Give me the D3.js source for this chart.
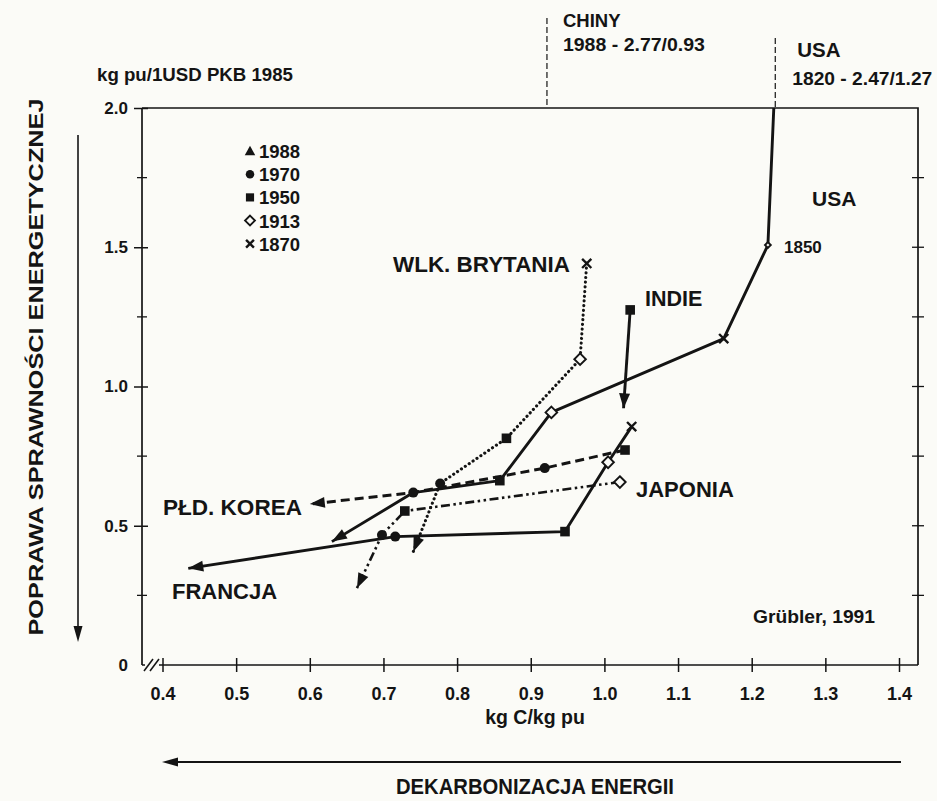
<!DOCTYPE html>
<html>
<head>
<meta charset="utf-8">
<script src="https://cdn.jsdelivr.net/npm/d3@7"></script>
<style>
  html, body { margin: 0; padding: 0; background: #fbfbf7; }
  svg { display: block; }
  text { fill: #141414; font-weight: bold; }
</style>
</head>
<body>
<svg id="chart" width="937" height="801"></svg>
<script>
// ---------------- DATA ----------------
const xTickValues = [0.4, 0.5, 0.6, 0.7, 0.8, 0.9, 1.0, 1.1, 1.2, 1.3, 1.4];
const xTickLabels = ["0.4", "0.5", "0.6", "0.7", "0.8", "0.9", "1.0", "1.1", "1.2", "1.3", "1.4"];
const yTickValues = [0, 0.5, 1.0, 1.5, 2.0];
const yTickLabels = ["0", "0.5", "1.0", "1.5", "2.0"];
const yMinorValues = [0.25, 0.75, 1.25, 1.75];

const legendYears = ["1988", "1970", "1950", "1913", "1870"];
const legendSymbols = ["triangle", "circle", "square", "diamond", "cross"];

// USA (solid) — first point is where the 1820 line leaves the frame at 2.0
const usaX = [1.230, 1.222, 1.162, 0.928, 0.858, 0.7405, 0.630];
const usaY = [2.000, 1.508, 1.172, 0.907, 0.662, 0.619, 0.443];
const usaYears = ["", "1850", "1870", "1913", "1950", "1970", "1988"];

// Wlk. Brytania (dotted)
const ukX = [0.976, 0.967, 0.867, 0.777, 0.7405];
const ukY = [1.442, 1.098, 0.814, 0.652, 0.407];
const ukYears = ["1870", "1913", "1950", "1970", "1988"];

// Indie (solid)
const indX = [1.035, 1.026];
const indY = [1.275, 0.922];
const indYears = ["1950", "1988"];

// Francja (solid)
const frX = [1.037, 1.005, 0.9465, 0.716, 0.435];
const frY = [0.856, 0.728, 0.479, 0.461, 0.347];
const frYears = ["1870", "1913", "1950", "1970", "1988"];

// Japonia (dash-dot)
const jpX = [1.021, 0.729, 0.698, 0.664];
const jpY = [0.657, 0.553, 0.467, 0.276];
const jpYears = ["1913", "1950", "1970", "1988"];

// Płd. Korea (dashed)
const krX = [1.028, 0.919, 0.7405, 0.600];
const krY = [0.772, 0.707, 0.619, 0.578];
const krYears = ["1950", "1970", "", "1988"];

// off-chart annotations (x values of the broken-off lines)
const chinaX = 0.922;
const usa1820X = 1.232;

// ---------------- LAYOUT ----------------
const svg = d3.select("#chart");
const frame = { left: 142, right: 918, top: 108, bottom: 665 };
const x = d3.scaleLinear().domain([0.4, 1.4]).range([162.5, 899]);
const y = d3.scaleLinear().domain([0, 2]).range([665, 108]);

const SANS = '"Liberation Sans",Arial,Helvetica,sans-serif';
const INK = "#141414";
const BG = "#fbfbf7";

// frame (top + right)
svg.append("path")
  .attr("d", `M${frame.left},${frame.top}H${frame.right}V${frame.bottom}`)
  .attr("fill", "none").attr("stroke", INK).attr("stroke-width", 1.7);

// bottom axis
const gx = svg.append("g").attr("transform", `translate(0,${frame.bottom})`)
  .call(d3.axisBottom(x).tickValues(xTickValues).tickFormat((d, i) => xTickLabels[i]).tickSize(7).tickPadding(15));
gx.select(".domain").remove();
gx.selectAll(".tick line").attr("y1", -7).attr("stroke", INK).attr("stroke-width", 1.5);
gx.selectAll(".tick text").attr("font-family", SANS).attr("font-size", 18).attr("fill", INK);
svg.append("line").attr("x1", frame.left).attr("x2", frame.right)
  .attr("y1", frame.bottom).attr("y2", frame.bottom).attr("stroke", INK).attr("stroke-width", 1.7);

// left axis
const gy = svg.append("g").attr("transform", `translate(${frame.left},0)`)
  .call(d3.axisLeft(y).tickValues(yTickValues).tickFormat((d, i) => yTickLabels[i]).tickSize(8).tickPadding(6));
gy.select(".domain").remove();
gy.selectAll(".tick line").attr("x1", 6).attr("stroke", INK).attr("stroke-width", 1.5);
gy.selectAll(".tick text").attr("font-family", SANS).attr("font-size", 17).attr("fill", INK);
gy.selectAll(".tick").filter(d => d === 0).select("line").remove();
svg.append("line").attr("x1", frame.left).attr("x2", frame.left)
  .attr("y1", frame.top).attr("y2", frame.bottom).attr("stroke", INK).attr("stroke-width", 1.7);
// left minor ticks
svg.selectAll(".yminor").data(yMinorValues).join("line")
  .attr("x1", frame.left - 5).attr("x2", frame.left + 5)
  .attr("y1", d => y(d)).attr("y2", d => y(d)).attr("stroke", INK).attr("stroke-width", 1.3);
// right axis ticks
svg.selectAll(".yright").data(yMinorValues.concat([0.5, 1.0, 1.5])).join("line")
  .attr("x1", frame.right - 6).attr("x2", frame.right + 6)
  .attr("y1", d => y(d)).attr("y2", d => y(d)).attr("stroke", INK).attr("stroke-width", 1.3);

// axis break "//"
svg.append("rect").attr("x", frame.left + 3).attr("y", frame.bottom - 3).attr("width", 14).attr("height", 6).attr("fill", BG);
[0, 6].forEach(o => {
  svg.append("line").attr("x1", frame.left + 2 + o).attr("y1", frame.bottom + 6)
    .attr("x2", frame.left + 11 + o).attr("y2", frame.bottom - 6)
    .attr("stroke", INK).attr("stroke-width", 1.5);
});

// ---------------- SERIES ----------------
const line = d3.line().x(d => x(d[0])).y(d => y(d[1]));
function pts(xs, ys, yrs) { return xs.map((v, i) => [v, ys[i], yrs[i]]); }

const series = [
  { name: "USA", data: pts(usaX, usaY, usaYears), dash: null, width: 2.9, cap: "butt" },
  { name: "UK",  data: pts(ukX, ukY, ukYears), dash: "0.1,4.6", width: 3.1, cap: "round" },
  { name: "IND", data: pts(indX, indY, indYears), dash: null, width: 2.9, cap: "butt" },
  { name: "FR",  data: pts(frX, frY, frYears), dash: null, width: 2.9, cap: "butt" },
  { name: "JP",  data: pts(jpX, jpY, jpYears), dash: "9,3.5,2.5,3.5,2.5,3.5", width: 2.6, cap: "butt" },
  { name: "KR",  data: pts(krX, krY, krYears), dash: "9,5", width: 3, cap: "butt" }
];

const gLines = svg.append("g");
series.forEach(s => {
  gLines.append("path").datum(s.data)
    .attr("d", line).attr("fill", "none").attr("stroke", INK)
    .attr("stroke-width", s.width).attr("stroke-dasharray", s.dash)
    .attr("stroke-linecap", s.cap).attr("stroke-linejoin", "round");
});

// arrowheads at the 1988 end of each series
function arrowAt(p0, p1, len, wid) {
  const x0 = x(p0[0]), y0 = y(p0[1]), x1 = x(p1[0]), y1 = y(p1[1]);
  const a = Math.atan2(y1 - y0, x1 - x0);
  const bx = x1 - len * Math.cos(a), by = y1 - len * Math.sin(a);
  const nx = -Math.sin(a) * wid / 2, ny = Math.cos(a) * wid / 2;
  return `M${x1},${y1}L${bx + nx},${by + ny}L${bx - nx},${by - ny}Z`;
}
series.forEach(s => {
  const n = s.data.length;
  svg.append("path").attr("d", arrowAt(s.data[n - 2], s.data[n - 1], 15, 11)).attr("fill", INK);
});

// markers
function drawMarker(g, kind, cx, cy, scale) {
  const k = scale || 1;
  if (kind === "square") {
    g.append("rect").attr("x", cx - 4.8 * k).attr("y", cy - 4.8 * k).attr("width", 9.6 * k).attr("height", 9.6 * k).attr("fill", INK);
  } else if (kind === "circle") {
    g.append("circle").attr("cx", cx).attr("cy", cy).attr("r", 5 * k).attr("fill", INK);
  } else if (kind === "diamond") {
    const r = 5.8 * k;
    g.append("path").attr("d", `M${cx},${cy - r}L${cx + r},${cy}L${cx},${cy + r}L${cx - r},${cy}Z`)
      .attr("fill", BG).attr("stroke", INK).attr("stroke-width", 1.9);
  } else if (kind === "cross") {
    const r = 4.6 * k;
    g.append("path").attr("d", `M${cx - r},${cy - r}L${cx + r},${cy + r}M${cx - r},${cy + r}L${cx + r},${cy - r}`)
      .attr("stroke", INK).attr("stroke-width", 2.4).attr("fill", "none");
  } else if (kind === "triangle") {
    const r = 5.5 * k;
    g.append("path").attr("d", `M${cx},${cy - r}L${cx + r},${cy + r * 0.8}L${cx - r},${cy + r * 0.8}Z`).attr("fill", INK);
  }
}
const yearSymbol = { "1970": "circle", "1950": "square", "1913": "diamond", "1870": "cross", "1850": "diamond" };
const gMarks = svg.append("g");
series.forEach(s => {
  s.data.forEach(d => {
    const kind = yearSymbol[d[2]];
    if (kind) drawMarker(gMarks, kind, x(d[0]), y(d[1]), d[2] === "1850" ? 0.5 : 1);
  });
});

// legend
const gLeg = svg.append("g");
legendYears.forEach((yr, i) => {
  const ly = 151 + i * 23.2;
  drawMarker(gLeg, legendSymbols[i], 250, ly, legendSymbols[i] === "triangle" ? 0.95 : 0.85);
  gLeg.append("text").attr("x", 259).attr("y", ly + 7).attr("font-family", SANS).attr("font-size", 18.5).text(yr);
});

// ---------------- TEXT ANNOTATIONS ----------------
function label(txt, tx, ty, size, anchor, len) {
  const t = svg.append("text").attr("x", tx).attr("y", ty).attr("font-family", SANS)
    .attr("font-size", size).attr("text-anchor", anchor || "start").text(txt);
  if (len) t.attr("textLength", len).attr("lengthAdjust", "spacingAndGlyphs");
  return t;
}
label("kg pu/1USD  PKB 1985", 97, 81, 18.5, "start", 196);
label("CHINY", x(chinaX) + 16, 27, 18.5);
label("1988 - 2.77/0.93", x(chinaX) + 16, 51, 18, "start", 142);
label("USA", x(usa1820X) + 22, 57, 20.5);
label("1820 - 2.47/1.27", x(usa1820X) + 17, 85, 18, "start", 140);

// dashed lines of the off-chart points
svg.append("line").attr("x1", x(chinaX)).attr("x2", x(chinaX)).attr("y1", 18).attr("y2", frame.top)
  .attr("stroke", INK).attr("stroke-width", 1.2).attr("stroke-dasharray", "6,3");
svg.append("line").attr("x1", x(usa1820X)).attr("x2", x(usa1820X)).attr("y1", 38).attr("y2", frame.top)
  .attr("stroke", INK).attr("stroke-width", 1.2).attr("stroke-dasharray", "6,3");

label("USA", 812, 206, 21);
label("1850", 784, 253, 17);
label("WLK. BRYTANIA", 393, 272, 21.5, "start", 177);
label("INDIE", 645, 306, 21.5);
label("JAPONIA", 636, 497, 22);
label("PŁD. KOREA", 163, 515, 22, "start", 139);
label("FRANCJA", 172, 599, 22);
label("Grübler, 1991", 753, 623, 18.5, "start", 122);

// axis titles
label("kg  C/kg pu", 535, 724, 19.5, "middle");
label("DEKARBONIZACJA ENERGII", 535, 794, 22, "middle", 278);
svg.append("text").attr("transform", "translate(43,367) rotate(-90)")
  .attr("text-anchor", "middle").attr("font-family", SANS).attr("font-size", 21)
  .attr("textLength", 537).attr("lengthAdjust", "spacingAndGlyphs")
  .text("POPRAWA SPRAWNOŚCI ENERGETYCZNEJ");

// direction arrows
svg.append("line").attr("x1", 78).attr("x2", 78).attr("y1", 135).attr("y2", 628).attr("stroke", INK).attr("stroke-width", 1.6);
svg.append("path").attr("d", "M78,642L73.5,626L82.5,626Z").attr("fill", INK);
svg.append("line").attr("x1", 176).attr("x2", 901).attr("y1", 762).attr("y2", 762).attr("stroke", INK).attr("stroke-width", 1.8);
svg.append("path").attr("d", "M162,762L178,757.5L178,766.5Z").attr("fill", INK);
</script>
</body>
</html>
